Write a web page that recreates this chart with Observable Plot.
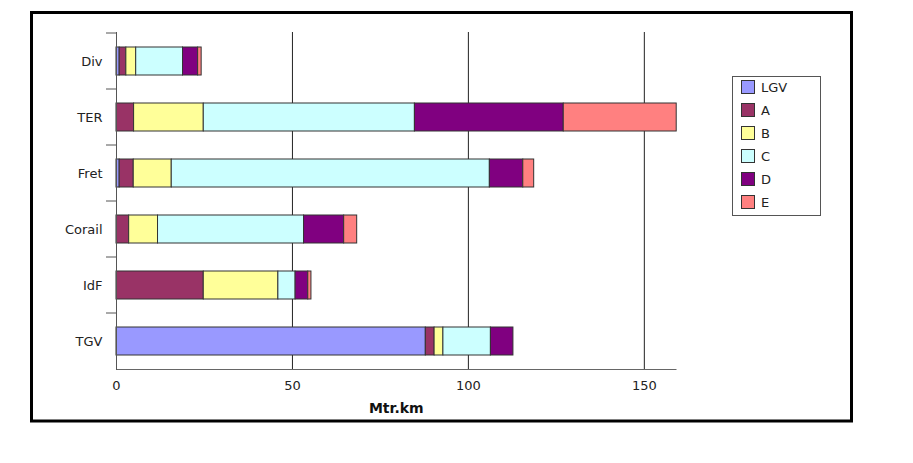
<!DOCTYPE html>
<html>
<head>
<meta charset="utf-8">
<script src="https://cdn.jsdelivr.net/npm/d3@7"></script>
<script src="https://cdn.jsdelivr.net/npm/@observablehq/plot@0.6"></script>
<style>
  html, body { margin: 0; padding: 0; background: #fff; }
</style>
</head>
<body>
<div id="chart"></div>
<script>
const categories = ["Div", "TER", "Fret", "Corail", "IdF", "TGV"];
const seriesNames = ["LGV", "A", "B", "C", "D", "E"];
const seriesColors = ["#9999FF", "#993366", "#FFFF99", "#CCFFFF", "#800080", "#FF8080"];
const LGV = [0.9, 0, 0.9, 0, 0, 87.9];
const A   = [1.9, 5.0, 4.0, 3.6, 24.8, 2.5];
const B   = [2.8, 19.8, 10.8, 8.2, 21.2, 2.5];
const C   = [13.3, 60.0, 90.4, 41.5, 4.9, 13.5];
const D   = [4.3, 42.3, 9.5, 11.4, 3.6, 6.4];
const E   = [1.0, 32.1, 3.1, 3.7, 0.9, 0];
const xTicks = [0, 50, 100, 150];
const xLabel = "Mtr.km";

const seriesValues = {LGV, A, B, C, D, E};
const data = [];
categories.forEach((cat, i) => {
  seriesNames.forEach(s => {
    const v = seriesValues[s][i];
    if (v > 0) data.push({cat, series: s, value: v});
  });
});

const plot = Plot.plot({
  width: 913,
  height: 463,
  marginLeft: 116,
  marginRight: 237.5,
  marginTop: 32,
  marginBottom: 94,
  style: {fontFamily: "DejaVu Sans", fontSize: "13px", color: "#222", background: "#fff"},
  x: {domain: [0, 159], ticks: xTicks},
  y: {domain: categories, paddingInner: 0.5, paddingOuter: 0.25},
  color: {domain: seriesNames, range: seriesColors},
  marks: [
    Plot.ruleX(xTicks.filter(d => d > 0), {stroke: "#222", strokeWidth: 1}),
    Plot.barX(data, Plot.stackX({y: "cat", x: "value", fill: "series", order: seriesNames, stroke: "#333", strokeWidth: 1})),
    Plot.frame({anchor: "bottom", stroke: "#666"}),
    Plot.frame({anchor: "left", stroke: "#555"}),
    Plot.axisX({ticks: xTicks, tickSize: 0, tickPadding: 11, label: null, fontSize: 13, fill: "#222"}),
    Plot.axisY({tickSize: 0, tickPadding: 14, label: null, fontSize: 13, fill: "#222"}),
    Plot.text([xLabel], {frameAnchor: "bottom", lineAnchor: "bottom", dy: 43, fontWeight: "bold", fontSize: 14, fill: "#111"})
  ]
});

document.getElementById("chart").appendChild(plot);

const svg = d3.select(plot);
const yScale = plot.scale("y");
const xScale = plot.scale("x");
const x0 = xScale.apply(0);

// category boundary ticks on the left axis
const step = yScale.step, bw = yScale.bandwidth;
const bounds = [];
categories.forEach((c, i) => {
  const center = yScale.apply(c) + bw / 2;
  bounds.push(center - step / 2);
});
svg.append("g").selectAll("line").data(bounds).join("line")
  .attr("x1", x0 - 10).attr("x2", x0)
  .attr("y1", d => d).attr("y2", d => d)
  .attr("stroke", "#555").attr("stroke-width", 1);

// legend
const lg = svg.append("g").attr("font-family", "DejaVu Sans").attr("font-size", 13).attr("text-anchor", "start");
lg.append("rect").attr("x", 732.5).attr("y", 76.5).attr("width", 88).attr("height", 139)
  .attr("fill", "#fff").attr("stroke", "#555").attr("stroke-width", 1);
seriesNames.forEach((s, i) => {
  const cy = 87 + i * 23;
  lg.append("rect").attr("x", 741.5).attr("y", cy - 6.5).attr("width", 13).attr("height", 13)
    .attr("fill", seriesColors[i]).attr("stroke", "#333").attr("stroke-width", 1);
  lg.append("text").attr("x", 761).attr("y", cy).attr("dy", "0.36em")
    .attr("text-anchor", "start").attr("fill", "#222").text(s);
});

// outer frame
svg.append("rect").attr("x", 31.5).attr("y", 12.5).attr("width", 820).attr("height", 408.5)
  .attr("fill", "none").attr("stroke", "#000").attr("stroke-width", 3);
</script>
</body>
</html>
